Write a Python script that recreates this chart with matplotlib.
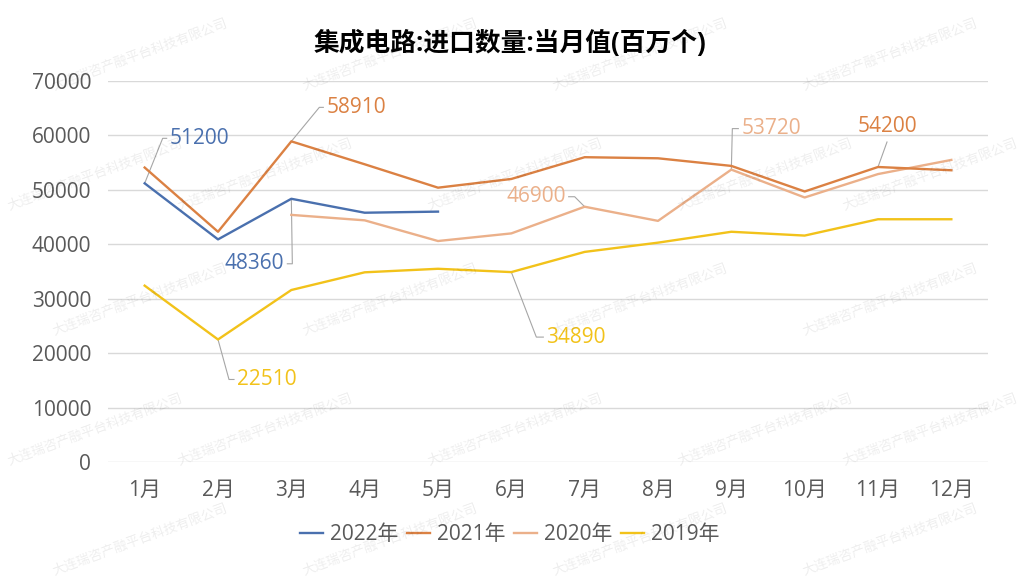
import matplotlib
matplotlib.use("Agg")
import matplotlib.pyplot as plt
from matplotlib.transforms import IdentityTransform

plt.rcParams["font.family"] = ["Open Sans", "Noto Sans CJK SC", "DejaVu Sans"]

months = ["1月", "2月", "3月", "4月", "5月", "6月", "7月", "8月", "9月", "10月", "11月", "12月"]
y2022 = [51200, 40900, 48360, 45800, 46000]
y2021 = [54100, 42300, 58910, 54700, 50400, 52000, 56000, 55800, 54400, 49700, 54200, 53600]
y2020 = [45400, 44400, 40600, 42000, 46900, 44300, 53720, 48600, 52900, 55500]  # from 3月
y2019 = [32400, 22510, 31600, 34850, 35500, 34890, 38600, 40300, 42300, 41600, 44600, 44600]

colors = {"2022年": "#4A70AE", "2021年": "#DB8143", "2020年": "#EBB08A", "2019年": "#F2C21A"}
grey = "#595959"

fig = plt.figure(figsize=(10.24, 5.76), dpi=100)
ax = fig.add_axes([108 / 1024, 1 - 462 / 576, 880 / 1024, 381 / 576])

x_all = list(range(len(months)))
ax.plot(x_all[:len(y2022)], y2022, color=colors["2022年"], lw=1.7, label="2022年", zorder=5)
ax.plot(x_all, y2021, color=colors["2021年"], lw=1.7, label="2021年", zorder=4)
ax.plot(x_all[2:], y2020, color=colors["2020年"], lw=1.7, label="2020年", zorder=3)
ax.plot(x_all, y2019, color=colors["2019年"], lw=1.7, label="2019年", zorder=2)

ax.set_xlim(-0.5, 11.5)
ax.set_ylim(0, 70000)
ax.set_yticks(range(0, 70001, 10000))
ax.set_xticks(x_all)
ax.set_xticklabels(months)
ax.tick_params(axis="both", length=0, labelsize=15, colors=grey)
ax.tick_params(axis="y", pad=12)
ax.tick_params(axis="x", pad=13)
ax.grid(axis="y", color="#D9D9D9", lw=1)
ax.set_axisbelow(True)
for s in ax.spines.values():
    s.set_visible(False)

# data labels: series, month index, value, elbow offset (px), horizontal tail (px)
labels = [
    ("2022年", 0, y2022[0], (18, 45), 4),
    ("2021年", 2, y2021[2], (28, 34), 4),
    ("2022年", 2, y2022[2], (1, -65), -5),
    ("2019年", 1, y2019[1], (11, -40), 5),
    ("2020年", 6, y2020[4], (-10, 10), -6),
    ("2020年", 8, y2020[6], (1, 41), 6),
    ("2019年", 5, y2019[5], (25, -65), 7),
    ("2021年", 10, y2021[10], (9, 25), 0),
]
for name, i, v, (ex, ey), h in labels:
    px, py = ax.transData.transform((i, v))
    xs = [px, px + ex, px + ex + h]
    ys = [py, py + ey, py + ey]
    ax.plot(xs, ys, color="#A6A6A6", lw=0.8, transform=IdentityTransform(),
            clip_on=False, zorder=1)
    if h == 0:
        off, ha = (ex, ey + 15), "center"
    elif h > 0:
        off, ha = (ex + h + 3, ey), "left"
    else:
        off, ha = (ex + h - 3, ey), "right"
    ax.annotate(f"{v}", xy=(i, v), xytext=off, textcoords="offset pixels",
                ha=ha, va="center", fontsize=15, color=colors[name], zorder=6)

fig.text(0.498, 1 - 43 / 576, "集成电路:进口数量:当月值(百万个)", ha="center", va="center",
         fontsize=18.5, fontweight="bold", color="#000000")

leg = fig.legend(loc="center", bbox_to_anchor=(510 / 1024, 1 - 535 / 576), ncol=4,
                 frameon=False, fontsize=15, handlelength=1.1, handletextpad=0.35,
                 columnspacing=0.4)
for t in leg.get_texts():
    t.set_color(grey)

# faint watermark
wm = "大连瑞咨产融平台科技有限公司"
for row, yc in enumerate([55, 175, 300, 430, 540]):
    xs = [140, 390, 640, 890] if row % 2 == 0 else [95, 265, 515, 765, 930]
    for xc in xs:
        fig.text(xc / 1024, 1 - yc / 576, wm, ha="center", va="center", rotation=20,
                 fontsize=9.5, color="#000000", alpha=0.07, zorder=10,
                 family=["Noto Sans CJK SC"])

fig.savefig("out.png", dpi=100)
